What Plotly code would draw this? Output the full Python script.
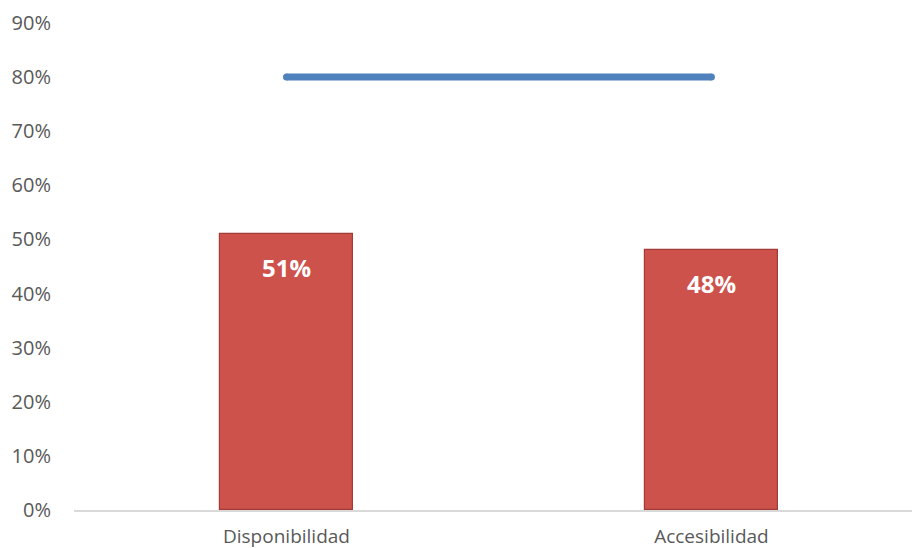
import plotly.graph_objects as go

categories = ["Disponibilidad", "Accesibilidad"]
valores = [0.51, 0.48]
meta = [0.80, 0.80]
etiquetas = ["51%", "48%"]
ticks_y = [0, 0.1, 0.2, 0.3, 0.4, 0.5, 0.6, 0.7, 0.8, 0.9]

fig = go.Figure()

fig.add_trace(go.Bar(
    x=categories,
    y=valores,
    width=0.313,
    marker=dict(color="#CE524C", line=dict(color="#A23A36", width=1.2)),
    hoverinfo="skip",
    showlegend=False,
))

# value labels placed just below the top of each bar
for cat, val, lab in zip(categories, valores, etiquetas):
    fig.add_annotation(
        x=cat, y=val, text=lab, showarrow=False,
        yanchor="middle", yshift=-33,
        font=dict(family="Open Sans", size=24, color="white", weight="bold"),
    )

# target line, with round end points
fig.add_trace(go.Scatter(
    x=categories,
    y=meta,
    mode="lines+markers",
    line=dict(color="#4F81BD", width=7),
    marker=dict(color="#4F81BD", size=7, symbol="circle", line=dict(width=0)),
    hoverinfo="skip",
    showlegend=False,
))

fig.update_layout(
    width=914,
    height=548,
    margin=dict(l=74, r=2, t=23, b=38, autoexpand=False),
    paper_bgcolor="white",
    plot_bgcolor="white",
    bargap=0,
    xaxis=dict(
        range=[-0.5, 1.472],
        showgrid=False,
        showline=True,
        linecolor="#D9D9D9",
        linewidth=1.5,
        ticks="",
        automargin=False,
        ticklabelstandoff=8,
        tickfont=dict(family="Open Sans", size=19, color="#595959"),
        zeroline=False,
    ),
    yaxis=dict(
        range=[0, 0.9],
        tickvals=ticks_y,
        tickformat=".0%",
        showgrid=False,
        zeroline=False,
        showline=False,
        ticks="",
        automargin=False,
        ticklabelstandoff=22,
        tickfont=dict(family="Open Sans", size=20, color="#595959"),
    ),
)

fig.write_html("out.html")
